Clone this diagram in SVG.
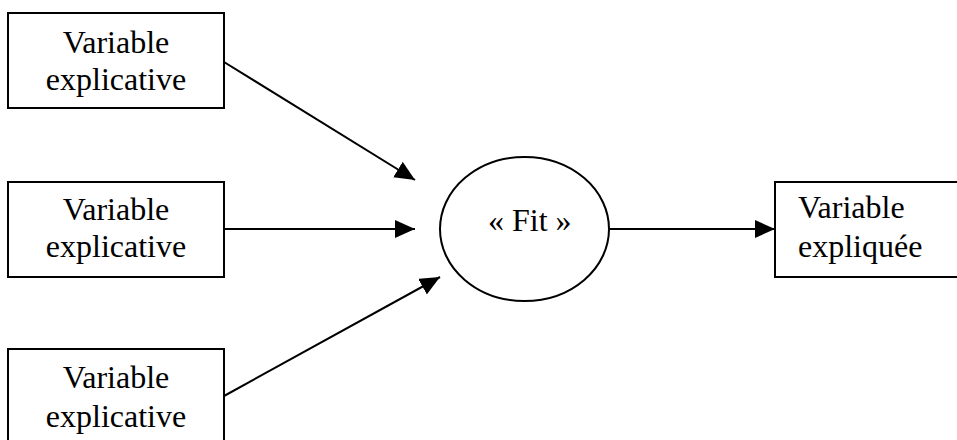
<svg xmlns="http://www.w3.org/2000/svg" width="957" height="440" viewBox="0 0 957 440">
  <style>
    .box { fill: #fff; stroke: #000; stroke-width: 2; }
    .lbl { font-family: "Liberation Serif", "Times New Roman", serif; font-size: 32px; fill: #000; }
    .c { text-anchor: middle; }
    .conn { stroke: #000; stroke-width: 2; fill: none; marker-end: url(#arr); }
  </style>
  <defs>
    <marker id="arr" markerUnits="userSpaceOnUse" markerWidth="22" markerHeight="20" refX="20" refY="9" orient="auto">
      <path d="M0,0 L20,9 L0,18 Z" fill="#000"/>
    </marker>
  </defs>
  <rect x="0" y="0" width="957" height="440" fill="#fff"/>
  <g id="connectors">
    <line class="conn" x1="224" y1="62" x2="415" y2="180"/>
    <line class="conn" x1="224" y1="229" x2="415" y2="229"/>
    <line class="conn" x1="224" y1="396" x2="440" y2="277"/>
    <line class="conn" x1="609" y1="229" x2="775" y2="229"/>
  </g>
  <g id="exp1">
    <rect class="box" x="8" y="13" width="216" height="95"/>
    <text class="lbl c" x="116" y="53">Variable</text>
    <text class="lbl c" x="116" y="90">explicative</text>
  </g>
  <g id="exp2">
    <rect class="box" x="8" y="182" width="216" height="95"/>
    <text class="lbl c" x="116" y="220">Variable</text>
    <text class="lbl c" x="116" y="257">explicative</text>
  </g>
  <g id="exp3">
    <rect class="box" x="8" y="349" width="216" height="100"/>
    <text class="lbl c" x="116" y="388">Variable</text>
    <text class="lbl c" x="116" y="427">explicative</text>
  </g>
  <g id="fit">
    <ellipse class="box" cx="524.5" cy="229" rx="84.5" ry="72"/>
    <text class="lbl" x="488" y="231">« Fit »</text>
  </g>
  <g id="expliquee">
    <rect class="box" x="775" y="182" width="190" height="95"/>
    <text class="lbl" x="798" y="218">Variable</text>
    <text class="lbl" x="798" y="257">expliquée</text>
  </g>
</svg>
